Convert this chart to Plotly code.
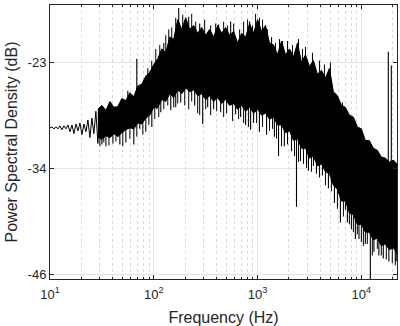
import plotly.graph_objects as go
import numpy as np

# ---- data ----
# thin low-frequency part of the spectrum (Hz, dB)
low_freq = [10.0, 10.45, 10.93, 11.42, 11.94, 12.48, 13.04, 13.63, 14.25, 14.90, 15.57, 16.27, 17.01,
            17.78, 18.59, 19.43, 20.31, 21.23, 22.19, 23.19, 24.24, 25.34, 26.48, 27.68, 28.93, 30.24]
low_db = [-30.05, -29.95, -30.16, -29.95, -30.16, -29.84, -30.26, -29.84, -30.16, -29.74, -30.47, -29.74, -30.68,
          -29.63, -30.37, -29.53, -30.79, -29.63, -30.47, -29.21, -31.11, -29.0, -30.68, -28.26, -31.74, -28.05]

# dense band: upper and lower edge of the solid part (Hz, dB)
core_freq = [28.9, 31.6, 34.6, 37.8, 41.3, 45.1, 49.2, 53.8, 58.8, 64.2, 70.2, 76.7, 83.8, 91.5, 100, 109.3,
             119.4, 130.4, 142.5, 155.7, 170.1, 185.9, 203.1, 221.9, 242.4, 264.9, 289.4, 316.2, 345.5, 377.5,
             412.5, 450.7, 492.4, 538.0, 587.9, 642.3, 701.8, 766.8, 837.8, 915.4, 1000, 1093, 1194, 1304, 1425,
             1557, 1701, 1859, 2031, 2219, 2424, 2649, 2894, 3162, 3455, 3775, 4125, 4507, 4924, 5380, 5879,
             6423, 7018, 7668, 8378, 9154, 10000, 10926, 11938, 13043, 14251, 15570, 17012, 18587, 20309, 22050]
core_upper = [-28.05, -27.63, -28.16, -27.21, -27.84, -27.74, -26.89, -27.11, -26.26, -26.68,
              -25.53, -25.32, -24.47, -24.05, -23.21, -22.58, -21.53, -21.95, -20.26, -20.47,
              -18.37, -19.42, -18.16, -19.42, -19.0, -19.84, -19.21, -20.05, -19.42, -20.26,
              -19.0, -19.84, -19.21, -20.05, -19.63, -20.89, -19.84, -20.26, -18.79, -19.84,
              -18.37, -19.63, -19.0, -20.89, -21.11, -22.16, -20.68, -22.16, -21.53, -22.37,
              -20.89, -23.0, -22.16, -23.42, -22.79, -24.26, -23.84, -24.68, -23.63, -26.16,
              -26.58, -27.63, -27.84, -28.68, -28.89, -29.95, -30.16, -31.42, -31.42, -32.26,
              -32.47, -33.21, -33.32, -33.74, -33.53, -33.95]
core_lower = [-31.0, -31.32, -30.89, -31.11, -30.68, -31.0, -30.58, -30.26, -30.05, -30.16,
              -29.53, -29.63, -29.0, -28.68, -27.84, -27.84, -27.0, -27.21, -26.37, -26.79,
              -25.95, -26.37, -25.74, -26.16, -25.95, -26.58, -26.37, -27.0, -26.58, -27.21,
              -26.79, -27.42, -27.0, -27.63, -27.42, -28.05, -27.63, -28.26, -27.84, -28.47,
              -28.05, -28.68, -28.47, -29.11, -28.89, -29.74, -29.74, -30.58, -30.37, -31.42,
              -31.21, -32.26, -32.26, -33.32, -33.11, -34.16, -33.95, -34.79, -35.0, -36.26,
              -36.68, -37.95, -37.95, -39.21, -39.42, -40.47, -40.47, -41.32, -41.32, -42.16,
              -41.95, -42.79, -42.58, -43.21, -43.0, -43.63]

# large isolated spikes sticking out of the band (Hz, top dB, bottom dB)
spike_freq = [31.6, 34.6, 40.4, 47.1, 53.8, 64.2, 73.3, 83.8, 95.7, 106.9,
              116.8, 145.7, 162.7, 181.8, 247.9, 296.0, 330.6, 377.5, 440.9, 614.6,
              686.3, 766.8, 856.3, 915.4, 1042, 1221, 1452, 1592, 1811, 2123,
              2371, 2591, 3093, 3455, 3693, 4217, 4816, 5502, 6284, 7335,
              8015, 8758, 9487, 10926, 12202, 13213, 14755, 16270, 18401, 21230,
              56.2, 68.6, 87.6, 124.8, 173.9, 217.0, 276.9, 421.7, 550.2, 837.8,
              1042, 1363, 1739, 2479, 6568, 18180, 19430]
spike_top = [-29.95, -29.95, -29.74, -29.74, -29.42, -28.89, -28.37, -27.84, -27.32, -26.79,
             -26.58, -25.74, -25.74, -25.53, -25.21, -25.74, -26.26, -26.26, -26.79, -26.79,
             -26.79, -27.32, -27.32, -27.63, -27.63, -27.84, -28.37, -28.89, -29.42, -29.95,
             -30.47, -31.0, -32.05, -32.58, -33.11, -33.11, -34.16, -35.21, -36.79, -37.32,
             -38.37, -39.42, -39.95, -40.47, -41.0, -41.53, -41.53, -42.05, -42.58, -42.58,
             -26.05, -22.58, -23.63, -20.89, -17.11, -18.05, -18.79, -18.89, -18.58, -18.58,
             -18.16, -20.26, -20.68, -20.47, -27.32, -21.84, -23.32]
spike_bottom = [-31.84, -32.05, -31.74, -31.84, -31.63, -31.84, -30.16, -30.47, -29.95, -28.05,
                -28.37, -28.16, -27.84, -27.32, -27.63, -29.63, -27.84, -28.05, -28.37, -28.58,
                -28.89, -29.74, -30.26, -29.53, -30.47, -30.79, -31.0, -33.11, -32.05, -32.58,
                -38.58, -33.63, -34.68, -34.16, -35.0, -35.21, -36.58, -38.16, -40.26, -40.26,
                -41.0, -42.05, -42.05, -42.58, -46.47, -43.42, -43.84, -44.16, -44.47, -44.89,
                -27.84, -26.26, -25.21, -22.58, -19.42, -19.95, -20.47, -20.47, -20.47, -19.95,
                -19.95, -22.05, -22.58, -22.58, -28.37, -34.16, -34.16]

# smaller spikes along the upper edge (Hz, top dB, bottom dB)
up_freq = [95.6, 104.5, 114.2, 130.4, 139.4, 148.9, 162.7, 190.1, 198.7, 231.9,
           253.4, 309.3, 353.2, 394.6, 471.1, 514.7, 587.9, 671.4, 733.6, 801.5,
           895.3, 956.8, 1117, 1248, 1489, 1627, 1943, 2170, 2708, 2894,
           3379, 3946, 4408, 5034]
up_top = [-22.79, -21.53, -21.11, -20.05, -19.42, -19.21, -18.16, -17.84, -18.79, -17.74,
          -18.58, -18.37, -19.0, -18.79, -18.58, -19.0, -18.79, -19.42, -18.58, -18.37,
          -19.0, -17.74, -18.37, -19.42, -20.89, -20.47, -20.68, -21.11, -21.53, -21.32,
          -21.95, -22.79, -23.21, -23.0]
up_bottom = [-24.68, -23.42, -23.0, -21.94, -21.31, -21.10, -20.05, -19.73, -20.68, -19.63,
             -20.47, -20.26, -20.89, -20.68, -20.47, -20.89, -20.68, -21.31, -20.47, -20.26,
             -20.89, -19.63, -20.26, -21.31, -22.78, -22.36, -22.57, -23.0, -23.42, -23.21,
             -23.84, -24.68, -25.10, -24.89]

# smaller spikes along the lower edge (Hz, top dB, bottom dB)
dn_freq = [30.24, 33.0, 37.0, 43.2, 50.3, 58.8, 68.6, 78.4, 89.6, 102.2,
           111.7, 124.8, 136.3, 155.7, 170.1, 198.7, 217.0, 231.9, 264.9, 276.9,
           316.2, 353.2, 403.4, 471.1, 503.4, 574.9, 656.7, 733.6, 819.4, 978.2,
           1117, 1304, 1394, 1523, 1701, 1943, 2269, 2479, 2769, 2959,
           3305, 3946, 4507, 5147, 5879, 6714, 7018, 7668, 8378, 9154,
           10000, 10453, 11421, 12757, 14251, 15570, 17393, 19863, 21703]
dn_top = [-29.73, -29.31, -29.63, -29.21, -29.73, -28.89, -28.68, -28.47, -27.42, -26.79,
          -26.57, -25.73, -25.31, -25.52, -25.10, -25.31, -25.73, -24.89, -26.15, -26.36,
          -25.73, -26.36, -25.94, -26.57, -26.15, -27.0, -26.79, -27.21, -27.63, -27.21,
          -27.63, -28.05, -27.84, -28.89, -29.73, -29.52, -30.79, -31.42, -31.63, -32.05,
          -32.47, -33.10, -33.94, -34.57, -36.47, -37.31, -36.57, -38.15, -39.0, -39.21,
          -40.05, -40.47, -40.26, -41.52, -40.79, -41.52, -41.94, -42.36, -42.15]
dn_bottom = [-32.05, -31.63, -31.95, -31.53, -32.05, -31.21, -31.0, -30.79, -29.74, -29.11,
             -28.89, -28.05, -27.63, -27.84, -27.42, -27.63, -28.05, -27.21, -28.47, -28.68,
             -28.05, -28.68, -28.26, -28.89, -28.47, -29.32, -29.11, -29.53, -29.95, -29.53,
             -29.95, -30.37, -30.16, -31.21, -32.05, -31.84, -33.11, -33.74, -33.95, -34.37,
             -34.79, -35.42, -36.26, -36.89, -38.79, -39.63, -38.89, -40.47, -41.32, -41.53,
             -42.37, -42.79, -42.58, -43.84, -43.11, -43.84, -44.26, -44.68, -44.47]

x_tick_vals = [10, 100, 1000, 10000]
x_tick_text = ["10<sup>1</sup>", "10<sup>2</sup>", "10<sup>3</sup>", "10<sup>4</sup>"]
x_minor_vals = [20, 30, 40, 50, 60, 70, 80, 90, 200, 300, 400, 500, 600, 700, 800, 900,
                2000, 3000, 4000, 5000, 6000, 7000, 8000, 9000, 20000]
y_tick_vals = [-23, -34.42, -45.84]
y_tick_text = ["-23", "-34", "-46"]

INK = "#000000"
AX = "#262626"
FONT = "Liberation Sans, Arial, Helvetica, sans-serif"


def segments(freqs, tops, bottoms):
    xs, ys = [], []
    for f, t, b in zip(freqs, tops, bottoms):
        xs += [f, f, None]
        ys += [t, b, None]
    return xs, ys


fig = go.Figure()

# solid band
fig.add_trace(go.Scatter(
    x=core_freq + core_freq[::-1],
    y=core_upper + core_lower[::-1],
    mode="lines", fill="toself", fillcolor=INK,
    line=dict(color=INK, width=1), hoverinfo="skip", showlegend=False))

# low-frequency thin line
fig.add_trace(go.Scatter(x=low_freq, y=low_db, mode="lines",
                         line=dict(color=INK, width=1), showlegend=False))

# spikes
for fr, tp, bt, w in [(spike_freq, spike_top, spike_bottom, 1.1),
                      (up_freq, up_top, up_bottom, 1.0),
                      (dn_freq, dn_top, dn_bottom, 1.0)]:
    sx, sy = segments(fr, tp, bt)
    fig.add_trace(go.Scatter(x=sx, y=sy, mode="lines",
                             line=dict(color=INK, width=w), showlegend=False))

fig.update_layout(
    width=400, height=326,
    margin=dict(l=50, r=2, t=5, b=40),
    paper_bgcolor="white", plot_bgcolor="white",
    font=dict(family=FONT, color=AX, size=13),
    showlegend=False,
    xaxis=dict(
        type="log", range=[1, np.log10(22050)],
        tickmode="array", tickvals=x_tick_vals, ticktext=x_tick_text,
        ticks="inside", ticklen=4, tickcolor=AX, ticklabelstandoff=3,
        showline=True, linecolor=AX, linewidth=1, mirror="allticks",
        showgrid=True, gridcolor="#e4e4e4", gridwidth=1, zeroline=False,
        minor=dict(tickmode="array", tickvals=x_minor_vals, ticks="inside", ticklen=2,
                   tickcolor=AX, showgrid=True, gridcolor="#d9d9d9", griddash="dot"),
        tickfont=dict(size=13, color=AX),
        title=dict(text="Frequency (Hz)", standoff=11, font=dict(size=16, color=AX)),
    ),
    yaxis=dict(
        range=[-46.37, -16.79],
        tickmode="array", tickvals=y_tick_vals, ticktext=y_tick_text,
        ticks="inside", ticklen=4, tickcolor=AX,
        showline=True, linecolor=AX, linewidth=1, mirror="allticks",
        showgrid=True, gridcolor="#e4e4e4", gridwidth=1, zeroline=False,
        tickfont=dict(size=13, color=AX),
        title=dict(text="Power Spectral Density (dB)", standoff=6, font=dict(size=16, color=AX)),
    ),
)

fig.write_html("out.html")
